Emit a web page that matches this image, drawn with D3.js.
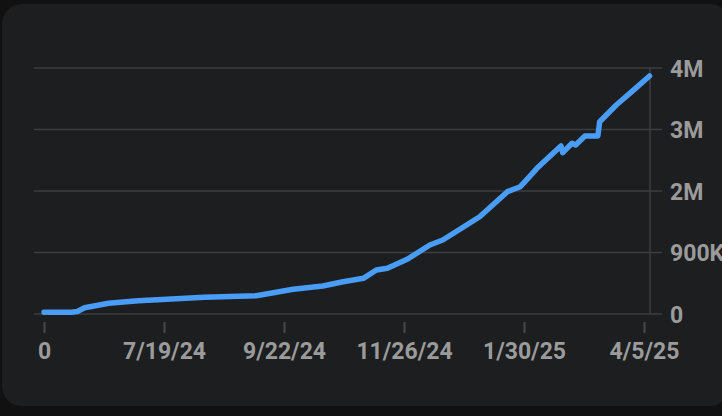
<!DOCTYPE html>
<html><head><meta charset="utf-8">
<script src="https://cdn.jsdelivr.net/npm/d3@7"></script>
<style>html,body{margin:0;padding:0;background:#111112;}svg{display:block;}</style>
</head><body>
<svg id="c" width="722" height="416"></svg>
<script>
const dates = ["2024-05-15","2024-05-30","2024-06-02","2024-06-06","2024-06-19","2024-07-05","2024-08-10","2024-09-07","2024-09-27","2024-10-13","2024-10-24","2024-11-04","2024-11-11","2024-11-17","2024-11-28","2024-12-10","2024-12-17","2025-01-06","2025-01-21","2025-01-28","2025-02-02","2025-02-06","2025-02-19","2025-02-20","2025-02-25","2025-02-27","2025-03-04","2025-03-11","2025-03-12","2025-03-21","2025-03-30","2025-04-08"];
const values = [30000,28000,40000,102000,174000,216000,272000,298000,402000,455000,525000,580000,715000,743000,894000,1122000,1203000,1582000,1989000,2070000,2233000,2369000,2732000,2623000,2776000,2748000,2894000,2894000,3127000,3398000,3631000,3870000];
const xTickDates = ["2024-05-15","2024-07-19","2024-09-22","2024-11-26","2025-01-30","2025-04-05"];
const xTickLabels = ["0","7/19/24","9/22/24","11/26/24","1/30/25","4/5/25"];
const yTickValues = [0,1000000,2000000,3000000,4000000];
const yTickLabels = ["0","900K","2M","3M","4M"];

const parse = d3.utcParse("%Y-%m-%d");
const data = dates.map((d,i)=>({d:parse(d), v:values[i]}));
const svg = d3.select("#c");

svg.append("rect").attr("x",2).attr("y",4).attr("width",728).attr("height",402).attr("rx",20).attr("fill","#1d1e20");

const x = d3.scaleUtc().domain([parse(xTickDates[0]), parse(xTickDates[xTickDates.length-1])]).range([44,644]);
const y = d3.scaleLinear().domain([0,4000000]).range([314,68]);
const font = "Roboto, 'Noto Sans', sans-serif";

// gridlines + y labels
const yAxis = d3.axisRight(y).tickValues(yTickValues).tickSize(0).tickFormat((d,i)=>yTickLabels[i]);
const gy = svg.append("g").attr("transform","translate(662,0)").call(yAxis);
gy.select(".domain").remove();
gy.selectAll("text").attr("x",8).attr("dy","0.36em").attr("fill","#9b9b9b")
  .style("font-family",font).style("font-size","23px").style("font-weight","700");
svg.append("g").selectAll("line").data(yTickValues).join("line")
  .attr("x1",34).attr("x2",662).attr("y1",d=>y(d)).attr("y2",d=>y(d))
  .attr("stroke","#3d3e40").attr("stroke-width",1.5);
svg.append("line").attr("x1",650).attr("x2",650).attr("y1",y(4000000)).attr("y2",y(0))
  .attr("stroke","#3d3e40").attr("stroke-width",1.5);

// x axis
const xAxis = d3.axisBottom(x).tickValues(xTickDates.map(parse)).tickSize(11).tickPadding(10).tickFormat((d,i)=>xTickLabels[i]);
const gx = svg.append("g").attr("transform","translate(0,322)").call(xAxis);
gx.select(".domain").remove();
gx.selectAll("line").attr("stroke","#47484a").attr("stroke-width",2);
gx.selectAll("text").attr("fill","#9b9b9b")
  .style("font-family",font).style("font-size","23px").style("font-weight","700");

// line
const line = d3.line().x(d=>x(d.d)).y(d=>y(d.v));
svg.append("path").datum(data).attr("d",line).attr("fill","none")
  .attr("stroke","#4a9df6").attr("stroke-width",5.5).attr("stroke-linejoin","round").attr("stroke-linecap","round");
</script>
</body></html>
